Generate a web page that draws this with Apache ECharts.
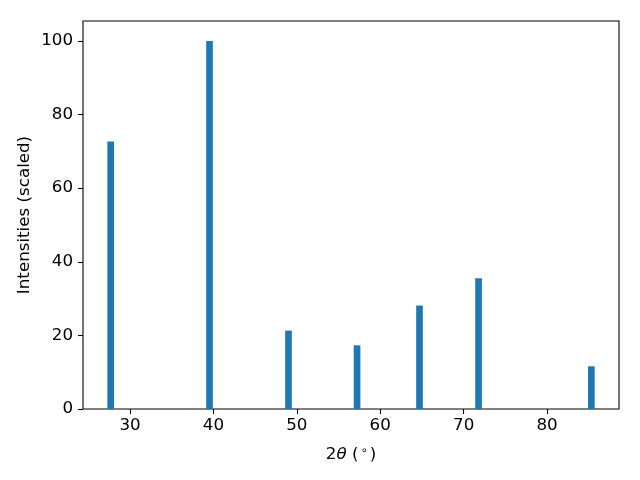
<!DOCTYPE html>
<html>
<head>
<meta charset="utf-8">
<script src="https://cdn.jsdelivr.net/npm/echarts@6/dist/echarts.min.js"></script>
<style>html,body{margin:0;padding:0;background:#fff}#c{width:640px;height:480px}</style>
</head>
<body>
<div id="c"></div>
<script>
const twoTheta = [27.68, 39.53, 49.0, 57.22, 64.71, 71.79, 85.31];
const intensities = [72.7, 100, 21.3, 17.3, 28.1, 35.5, 11.6];
const xTicks = [30, 40, 50, 60, 70, 80];
const yTicks = [0, 20, 40, 60, 80, 100];
const barWidthDeg = 0.8;

const data = twoTheta.map((t, i) => [t, intensities[i]]);
const font = 'DejaVu Sans';
const chart = echarts.init(document.getElementById('c'), null, {renderer: 'canvas'});
chart.setOption({
  animation: false,
  backgroundColor: '#fff',
  grid: {left: 83, right: 21, top: 21, bottom: 71, show: true, borderColor: '#000', borderWidth: 1.1, backgroundColor: 'transparent'},
  xAxis: {
    type: 'value', min: 24.36, max: 88.63,
    splitLine: {show: false},
    axisLine: {show: false},
    axisTick: {show: true, inside: false, length: 5, lineStyle: {color: '#000', width: 1.1}, customValues: xTicks},
    axisLabel: {color: '#000', fontFamily: font, fontSize: 16.7, margin: 8, customValues: xTicks},
    name: '{n|2}{i|θ}{n| (}{s|∘}{n|)}',
    nameLocation: 'middle', nameGap: 36, nameMoveOverlap: false,
    nameTextStyle: {
      rich: {
        n: {fontFamily: font, fontSize: 16.7, color: '#000'},
        i: {fontFamily: font, fontStyle: 'italic', fontSize: 16.7, color: '#000'},
        s: {fontFamily: font, fontSize: 11.5, color: '#000', padding: [0, 2, 8, 2]}
      }
    }
  },
  yAxis: {
    type: 'value', min: 0, max: 105.4,
    splitLine: {show: false},
    axisLine: {show: false},
    axisTick: {show: true, inside: false, length: 5, lineStyle: {color: '#000', width: 1.1}, customValues: yTicks},
    axisLabel: {color: '#000', fontFamily: font, fontSize: 16.7, margin: 10, customValues: yTicks},
    name: 'Intensities (scaled)',
    nameLocation: 'middle', nameGap: 50, nameMoveOverlap: false,
    nameTextStyle: {fontFamily: font, fontSize: 16.7, color: '#000'}
  },
  series: [{
    type: 'custom',
    data: data,
    renderItem: function (params, api) {
      const x = api.value(0), y = api.value(1);
      const p0 = api.coord([x - barWidthDeg / 2, y]);
      const p1 = api.coord([x + barWidthDeg / 2, 0]);
      return {type: 'rect', shape: {x: p0[0], y: p0[1], width: p1[0] - p0[0], height: p1[1] - p0[1]}, style: {fill: '#1f77b4'}};
    },
    encode: {x: 0, y: 1}
  }]
});
</script>
</body>
</html>
